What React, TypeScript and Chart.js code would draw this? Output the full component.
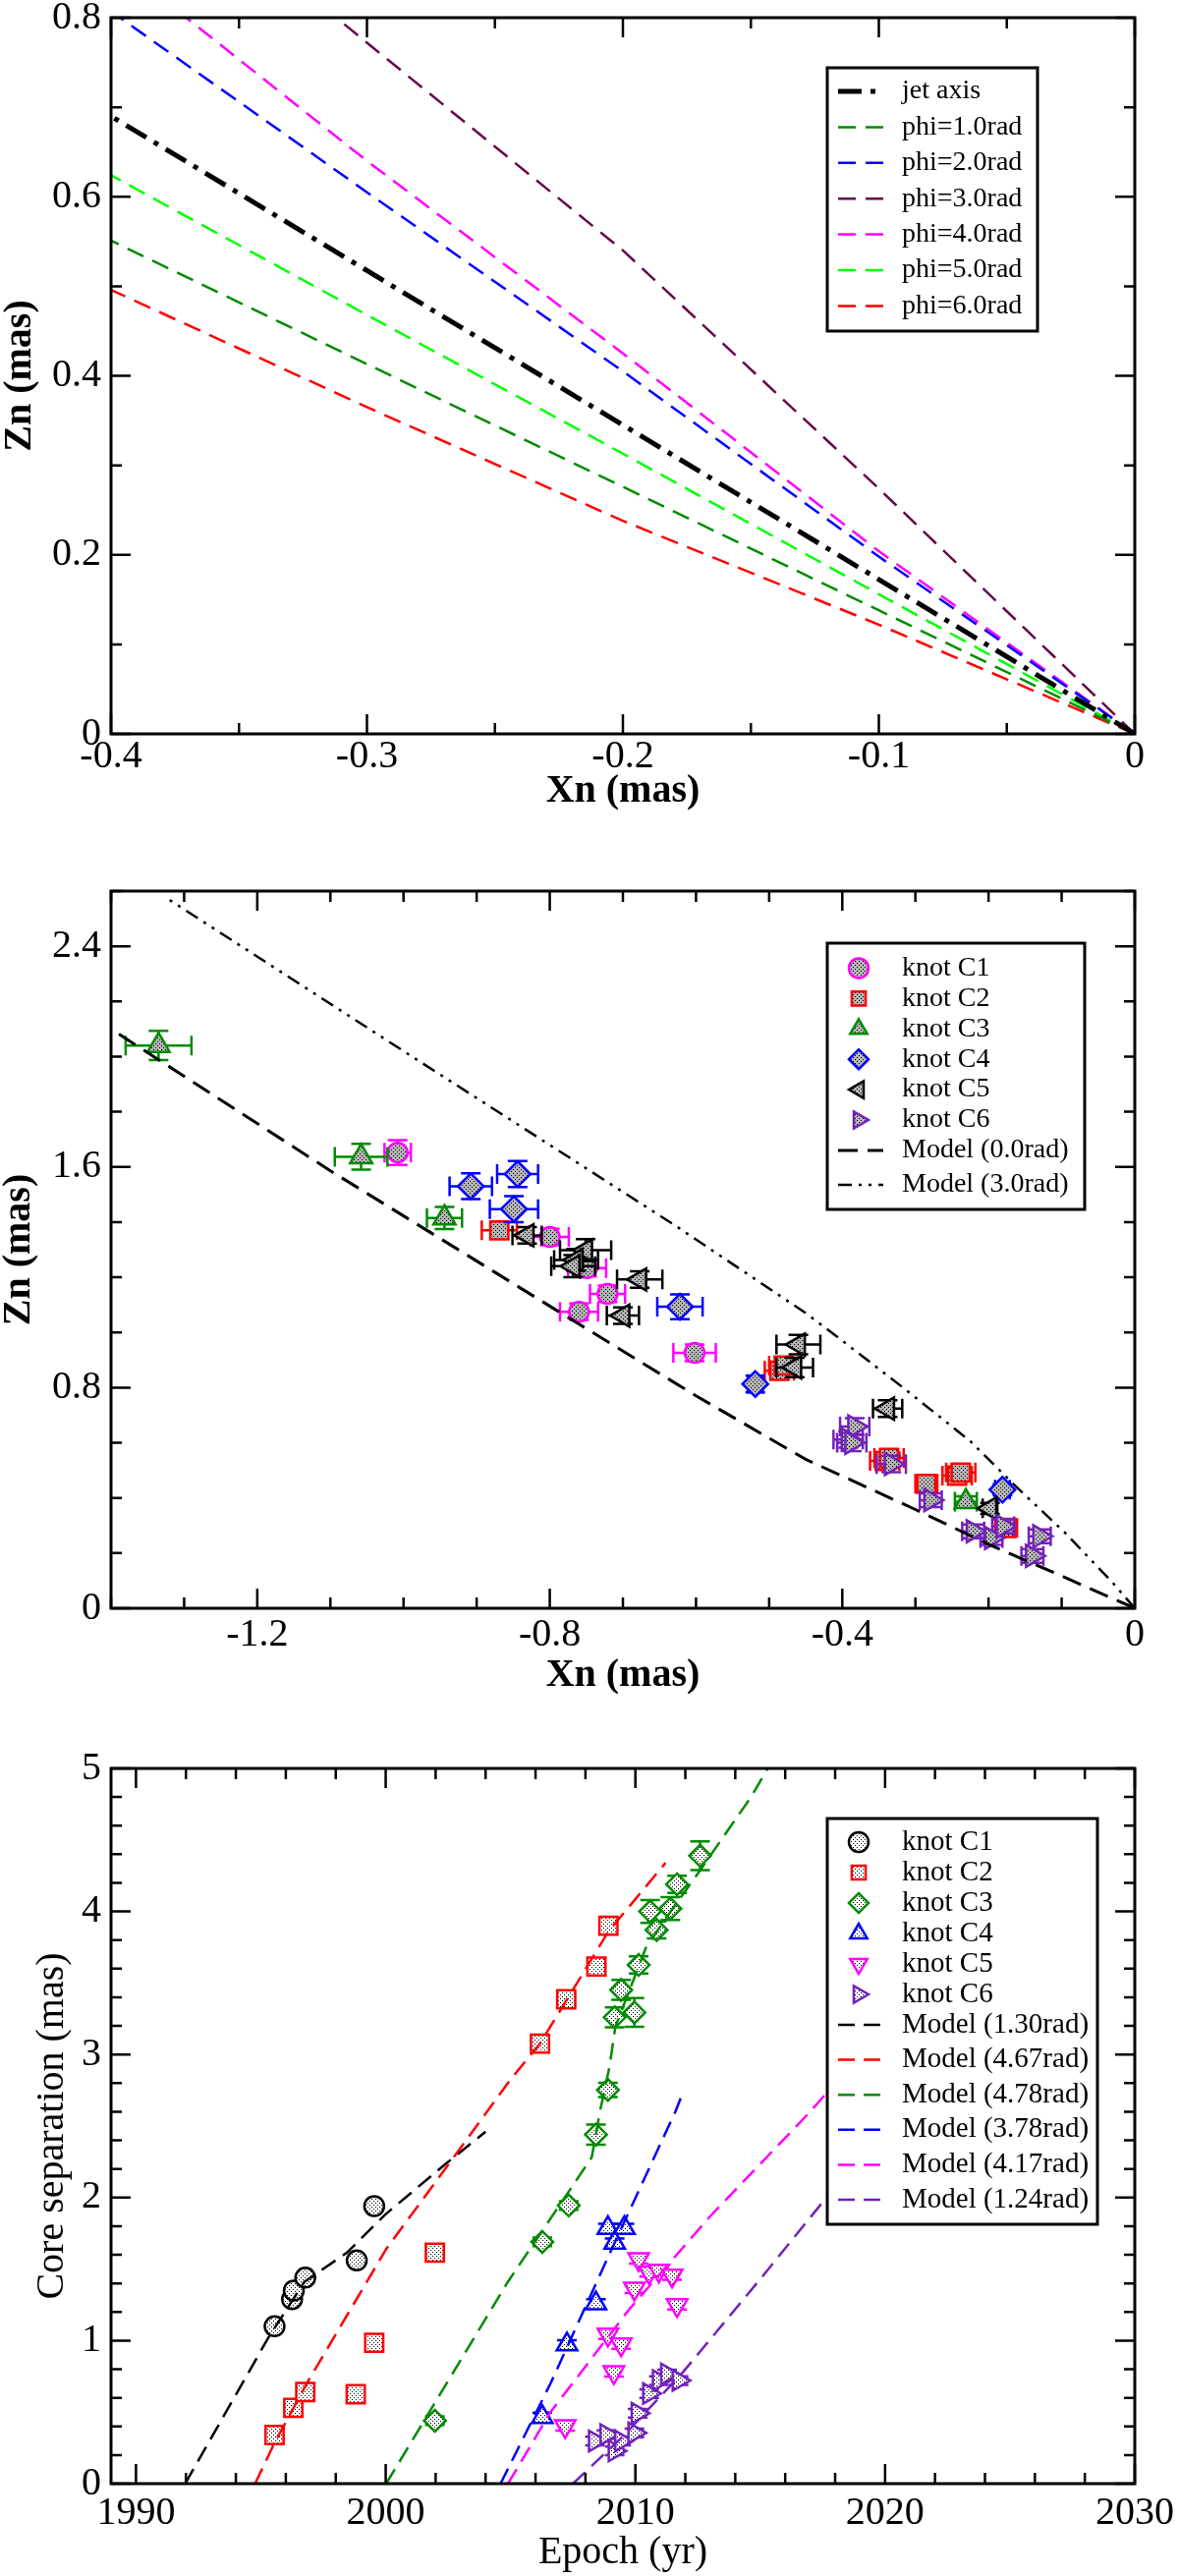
import { useEffect, useRef } from 'react';
import { Chart, registerables } from 'chart.js';
import { drawPoint } from 'chart.js/helpers';

Chart.register(...registerables);

const FONT = "'Liberation Serif', 'Times New Roman', Times, serif";

// ---------------- top panel: model trajectories ----------------
const jetAxisX = [0, -0.1, -0.2, -0.3, -0.4];
const jetAxisZ = [0, 0.1725, 0.345, 0.5175, 0.69];
const phi1X = [0, -0.1, -0.2, -0.3, -0.4];
const phi1Z = [0, 0.138, 0.276, 0.413, 0.551];
const phi2X = [0, -0.1, -0.2, -0.3, -0.3965];
const phi2Z = [0, 0.198, 0.405, 0.605, 0.8];
const phi3X = [0, -0.1, -0.2, -0.3, -0.312];
const phi3Z = [0, 0.274, 0.54, 0.772, 0.8];
const phi4X = [0, -0.1, -0.2, -0.3, -0.3706];
const phi4Z = [0, 0.204, 0.425, 0.64, 0.8];
const phi5X = [0, -0.1, -0.2, -0.3, -0.4];
const phi5Z = [0, 0.156, 0.313, 0.468, 0.624];
const phi6X = [0, -0.1, -0.2, -0.3, -0.4];
const phi6Z = [0, 0.122, 0.238, 0.365, 0.496];
const topLabels = ['jet axis', 'phi=1.0rad', 'phi=2.0rad', 'phi=3.0rad', 'phi=4.0rad', 'phi=5.0rad', 'phi=6.0rad'];
const topXTicks = [-0.4, -0.3, -0.2, -0.1, 0];
const topYTicks = [0, 0.2, 0.4, 0.6, 0.8];

// ---------------- middle panel: knot positions ----------------
const midC1X = [-1.008, -0.8, -0.749, -0.721, -0.76, -0.602];
const midC1Z = [1.652, 1.346, 1.233, 1.14, 1.075, 0.926];
const midC1EX = [0.018, 0.026, 0.026, 0.024, 0.026, 0.029];
const midC1EZ = [0.045, 0.03, 0.03, 0.03, 0.03, 0.03];
const midC2X = [-0.869, -0.486, -0.48, -0.342, -0.336, -0.285, -0.243, -0.238, -0.176];
const midC2Z = [1.37, 0.861, 0.88, 0.534, 0.545, 0.451, 0.481, 0.492, 0.291];
const midC2EX = [0.024, 0.02, 0.02, 0.02, 0.02, 0.015, 0.02, 0.02, 0.015];
const midC2EZ = [0.03, 0.03, 0.03, 0.03, 0.03, 0.02, 0.03, 0.03, 0.02];
const midC3X = [-1.335, -1.058, -0.944, -0.231];
const midC3Z = [2.04, 1.637, 1.415, 0.386];
const midC3EX = [0.045, 0.036, 0.024, 0.015];
const midC3EZ = [0.053, 0.047, 0.04, 0.02];
const midC4X = [-0.908, -0.844, -0.849, -0.622, -0.519, -0.181];
const midC4Z = [1.53, 1.574, 1.447, 1.093, 0.813, 0.43];
const midC4EX = [0.029, 0.028, 0.033, 0.031, 0.01, 0.01];
const midC4EZ = [0.047, 0.047, 0.047, 0.045, 0.03, 0.02];
const midC5X = [-0.831, -0.751, -0.764, -0.768, -0.677, -0.7, -0.46, -0.465, -0.338, -0.198];
const midC5Z = [1.352, 1.298, 1.263, 1.24, 1.192, 1.061, 0.956, 0.873, 0.724, 0.362];
const midC5EX = [0.02, 0.035, 0.03, 0.03, 0.031, 0.022, 0.03, 0.025, 0.02, 0.01];
const midC5EZ = [0.03, 0.04, 0.04, 0.04, 0.03, 0.03, 0.035, 0.035, 0.03, 0.02];
const midC6X = [-0.383, -0.392, -0.387, -0.333, -0.279, -0.221, -0.196, -0.18, -0.13, -0.14];
const midC6Z = [0.659, 0.612, 0.6, 0.523, 0.392, 0.279, 0.255, 0.297, 0.261, 0.19];
const midC6EX = [0.02, 0.02, 0.02, 0.02, 0.015, 0.015, 0.015, 0.015, 0.015, 0.015];
const midC6EZ = [0.03, 0.03, 0.03, 0.03, 0.025, 0.025, 0.025, 0.025, 0.025, 0.025];
const model00X = [0, -0.1, -0.2, -0.3, -0.45, -0.6, -0.76, -1.1, -1.4];
const model00Z = [0, 0.117, 0.232, 0.358, 0.54, 0.77, 1.03, 1.586, 2.1];
const model30X = [0, -0.03, -0.095, -0.162, -0.225, -0.315, -0.4, -0.45, -0.627, -1.0, -1.327];
const model30Z = [0, 0.092, 0.273, 0.44, 0.606, 0.796, 0.97, 1.07, 1.385, 2.02, 2.58];
const midLabels = ['knot C1', 'knot C2', 'knot C3', 'knot C4', 'knot C5', 'knot C6', 'Model (0.0rad)', 'Model (3.0rad)'];
const midXTicks = [-1.2, -0.8, -0.4, 0];
const midYTicks = [0, 0.8, 1.6, 2.4];

// ---------------- bottom panel: core separation vs epoch ----------------
const botC1T = [1995.55, 1996.25, 1996.32, 1996.78, 1998.84, 1999.54];
const botC1R = [1.1, 1.29, 1.35, 1.44, 1.56, 1.94];
const botC2T = [1995.55, 1996.3, 1996.78, 1998.8, 1999.54, 2001.97, 2006.18, 2007.23, 2008.44, 2008.92];
const botC2R = [0.34, 0.53, 0.64, 0.625, 0.985, 1.615, 3.076, 3.386, 3.615, 3.9];
const botC3T = [2001.97, 2006.27, 2007.33, 2008.42, 2008.9, 2009.17, 2009.96, 2009.43, 2010.13, 2010.85, 2010.59, 2011.4, 2011.67, 2012.59];
const botC3R = [0.44, 1.69, 1.945, 2.44, 2.753, 3.26, 3.294, 3.452, 3.626, 3.871, 4.0, 4.02, 4.19, 4.39];
const botC3E = [0.03, 0.03, 0.03, 0.07, 0.05, 0.07, 0.1, 0.07, 0.06, 0.06, 0.08, 0.08, 0.06, 0.1];
const botC4T = [2006.27, 2007.26, 2008.42, 2008.9, 2009.17, 2009.56];
const botC4R = [0.466, 0.973, 1.26, 1.787, 1.684, 1.787];
const botC5T = [2007.19, 2008.9, 2009.43, 2009.14, 2009.96, 2010.13, 2010.55, 2010.94, 2011.47, 2011.67];
const botC5R = [0.401, 1.042, 0.973, 0.779, 1.363, 1.569, 1.477, 1.489, 1.455, 1.248];
const botC6T = [2008.38, 2008.84, 2009.17, 2009.43, 2009.96, 2010.09, 2010.55, 2010.94, 2011.27, 2011.73];
const botC6R = [0.298, 0.343, 0.229, 0.298, 0.355, 0.492, 0.63, 0.721, 0.767, 0.721];
const m130T = [1991.97, 1995.3, 1996.74, 1998.45, 1999.96, 2002.39, 2004.0];
const m130R = [0, 1.02, 1.41, 1.615, 1.878, 2.234, 2.46];
const m467T = [1994.77, 1995.55, 1996.87, 2000.02, 2003.18, 2005.02, 2006.18, 2008.92, 2011.21];
const m467R = [0, 0.286, 0.71, 1.64, 2.39, 2.83, 3.076, 3.86, 4.34];
const m478T = [2000.02, 2004.89, 2008.25, 2008.58, 2008.97, 2009.2, 2010.42, 2011.21, 2012.52, 2014.63, 2015.3];
const m478R = [0, 1.41, 2.28, 2.6, 2.92, 3.196, 3.746, 3.95, 4.27, 4.8, 5.0];
const m378T = [2004.6, 2006.6, 2009.0, 2011.6, 2011.85];
const m378R = [0, 0.7, 1.62, 2.6, 2.71];
const m417T = [2004.9, 2006.6, 2009.76, 2013.0, 2017.0, 2020.0];
const m417R = [0, 0.5, 1.22, 1.87, 2.6, 3.2];
const m124T = [2007.5, 2009.5, 2011.86, 2015.0, 2017.65, 2020.0];
const m124R = [0, 0.33, 0.77, 1.43, 2.0, 2.5];
const botLabels = ['knot C1', 'knot C2', 'knot C3', 'knot C4', 'knot C5', 'knot C6',
  'Model (1.30rad)', 'Model (4.67rad)', 'Model (4.78rad)', 'Model (3.78rad)', 'Model (4.17rad)', 'Model (1.24rad)'];
const botXTicks = [1990, 2000, 2010, 2020, 2030];
const botYTicks = [0, 1, 2, 3, 4, 5];

const C = {
  black: '#000000', red: '#ff0000', green4: '#008b00', lime: '#00ff00', blue: '#0000ff',
  magenta: '#ff00ff', maroon: '#670748', indigo: '#7221bc',
};

type Pt = { x: number; y: number; ex?: number; ey?: number };

const zip = (xs: number[], ys: number[], ex?: number[] | number, ey?: number[] | number): Pt[] =>
  xs.map((x, i) => ({
    x,
    y: ys[i],
    ex: Array.isArray(ex) ? ex[i] : ex,
    ey: Array.isArray(ey) ? ey[i] : ey,
  }));

function stipple(bg: string): CanvasPattern {
  const c = document.createElement('canvas');
  c.width = 4;
  c.height = 4;
  const g = c.getContext('2d')!;
  g.fillStyle = bg;
  g.fillRect(0, 0, 4, 4);
  g.fillStyle = '#000';
  g.fillRect(0, 0, 1, 1);
  g.fillRect(2, 2, 1, 1);
  return g.createPattern(c, 'repeat')!;
}

const knot = (label: string, data: Pt[], color: string, style: string, rotation: number, radius: number, fill: any, cap: number) => ({
  label, data, showLine: false, pointStyle: style, pointRotation: rotation, pointRadius: radius,
  pointBorderWidth: 2.5, pointBorderColor: color, pointBackgroundColor: fill, errorBars: true, errCap: cap,
});

const model = (label: string, data: Pt[], color: string, dash: number[], width: number) => ({
  label, data, showLine: true, pointRadius: 0, borderColor: color, borderDash: dash, borderWidth: width,
  fill: false, tension: 0,
});

// error bars drawn just under each dataset's markers
const errorBars = {
  id: 'errorBars',
  beforeDatasetDraw(chart: any, args: any) {
    const ds = chart.data.datasets[args.index];
    if (!ds.errorBars) return;
    const { ctx, chartArea: a } = chart;
    const xs = chart.scales.x;
    const ys = chart.scales.y;
    const cap = ds.errCap;
    ctx.save();
    ctx.beginPath();
    ctx.rect(a.left, a.top, a.right - a.left, a.bottom - a.top);
    ctx.clip();
    ctx.strokeStyle = ds.pointBorderColor;
    ctx.lineWidth = 2.5;
    ds.data.forEach((p: Pt) => {
      const cx = xs.getPixelForValue(p.x);
      const cy = ys.getPixelForValue(p.y);
      ctx.beginPath();
      if (p.ex) {
        const l = xs.getPixelForValue(p.x - p.ex);
        const r = xs.getPixelForValue(p.x + p.ex);
        ctx.moveTo(l, cy); ctx.lineTo(r, cy);
        ctx.moveTo(l, cy - cap); ctx.lineTo(l, cy + cap);
        ctx.moveTo(r, cy - cap); ctx.lineTo(r, cy + cap);
      }
      if (p.ey) {
        const t = ys.getPixelForValue(p.y + p.ey);
        const b = ys.getPixelForValue(p.y - p.ey);
        ctx.moveTo(cx, t); ctx.lineTo(cx, b);
        ctx.moveTo(cx - cap, t); ctx.lineTo(cx + cap, t);
        ctx.moveTo(cx - cap, b); ctx.lineTo(cx + cap, b);
      }
      ctx.stroke();
    });
    ctx.restore();
  },
};

interface FrameSpec { xMajor: number[]; yMajor: number[]; xMinor: number; yMinor: number }

// box with inward major/minor ticks on all four sides
function framePlugin(f: FrameSpec) {
  const steps = (min: number, max: number, step: number) => {
    const out: number[] = [];
    for (let n = Math.ceil(min / step - 1e-6); n <= Math.floor(max / step + 1e-6); n++) out.push(n * step);
    return out;
  };
  return {
    id: 'frame',
    afterDatasetsDraw(chart: any) {
      const { ctx, chartArea: a } = chart;
      const xs = chart.scales.x;
      const ys = chart.scales.y;
      ctx.save();
      ctx.strokeStyle = '#000';
      ctx.lineWidth = 2.5;
      ctx.beginPath();
      steps(xs.min, xs.max, f.xMinor).forEach((v) => {
        const len = f.xMajor.some((m) => Math.abs(m - v) < f.xMinor / 10) ? 20 : 11;
        const px = xs.getPixelForValue(v);
        ctx.moveTo(px, a.bottom); ctx.lineTo(px, a.bottom - len);
        ctx.moveTo(px, a.top); ctx.lineTo(px, a.top + len);
      });
      steps(ys.min, ys.max, f.yMinor).forEach((v) => {
        const len = f.yMajor.some((m) => Math.abs(m - v) < f.yMinor / 10) ? 20 : 11;
        const py = ys.getPixelForValue(v);
        ctx.moveTo(a.left, py); ctx.lineTo(a.left + len, py);
        ctx.moveTo(a.right, py); ctx.lineTo(a.right - len, py);
      });
      ctx.stroke();
      ctx.lineWidth = 3;
      ctx.strokeRect(a.left, a.top, a.right - a.left, a.bottom - a.top);
      ctx.restore();
    },
  };
}

interface LegendSpec { x: number; y: number; w: number; h: number; first: number; pointStep: number; lineStep: number; markR: number; size: number }

function legendPlugin(s: LegendSpec) {
  return {
    id: 'boxLegend',
    afterDraw(chart: any) {
      const { ctx } = chart;
      ctx.save();
      ctx.fillStyle = '#fff';
      ctx.fillRect(s.x, s.y, s.w, s.h);
      ctx.lineWidth = 3;
      ctx.strokeStyle = '#000';
      ctx.strokeRect(s.x, s.y, s.w, s.h);
      let y = s.first;
      let prevLine = false;
      chart.data.datasets.forEach((ds: any, i: number) => {
        const isLine = !!ds.showLine;
        if (i > 0) y += isLine && prevLine ? s.lineStep : s.pointStep;
        prevLine = isLine;
        if (isLine) {
          ctx.beginPath();
          ctx.setLineDash(ds.borderDash);
          ctx.lineWidth = ds.borderWidth;
          ctx.strokeStyle = ds.borderColor;
          ctx.moveTo(s.x + 11, y);
          ctx.lineTo(s.x + 57, y);
          ctx.stroke();
          ctx.setLineDash([]);
        } else {
          ctx.fillStyle = ds.pointBackgroundColor;
          ctx.strokeStyle = ds.pointBorderColor;
          ctx.lineWidth = ds.pointBorderWidth;
          drawPoint(ctx, { pointStyle: ds.pointStyle, rotation: ds.pointRotation, radius: s.markR, borderWidth: ds.pointBorderWidth } as any, s.x + 32, y);
        }
        ctx.fillStyle = '#000';
        ctx.font = `${s.size}px ${FONT}`;
        ctx.textBaseline = 'middle';
        ctx.textAlign = 'left';
        ctx.fillText(ds.label, s.x + 76, y);
      });
      ctx.restore();
    },
  };
}

interface AxesSpec {
  xMin: number; xMax: number; yMin: number; yMax: number;
  xTicks: number[]; yTicks: number[]; xTitle: string; yTitle: string; bold: boolean;
  padTop: number; xAxisH: number; xTickPad: number; xTitlePad: number; yTitlePad: number;
}

function baseOptions(a: AxesSpec) {
  const tickFont = { family: FONT, size: 40, lineHeight: 1 };
  const titleFont = { family: FONT, size: 40, lineHeight: 1, weight: a.bold ? 'bold' : 'normal' };
  const fmt = (v: number) => String(Math.round(v * 1000) / 1000);
  return {
    animation: false,
    responsive: true,
    maintainAspectRatio: false,
    events: [],
    layout: { autoPadding: false, padding: { top: a.padTop, right: 45, bottom: 0, left: 0 } },
    plugins: { legend: { display: false }, tooltip: { enabled: false } },
    scales: {
      x: {
        type: 'linear',
        min: a.xMin,
        max: a.xMax,
        grid: { display: false, drawTicks: false },
        border: { display: false },
        afterBuildTicks: (s: any) => { s.ticks = a.xTicks.map((value) => ({ value })); },
        afterFit: (s: any) => { s.height = a.xAxisH; s.paddingLeft = 0; s.paddingRight = 0; },
        ticks: { color: '#000', font: tickFont, padding: a.xTickPad, maxRotation: 0, autoSkip: false, callback: fmt },
        title: { display: true, text: a.xTitle, color: '#000', font: titleFont, padding: { top: 0, bottom: a.xTitlePad } },
      },
      y: {
        type: 'linear',
        min: a.yMin,
        max: a.yMax,
        grid: { display: false, drawTicks: false },
        border: { display: false },
        afterBuildTicks: (s: any) => { s.ticks = a.yTicks.map((value) => ({ value })); },
        afterFit: (s: any) => { s.width = 113; s.paddingTop = 0; s.paddingBottom = 0; },
        ticks: { color: '#000', font: tickFont, padding: 10, autoSkip: false, callback: fmt },
        title: { display: true, text: a.yTitle, color: '#000', font: titleFont, padding: { top: a.yTitlePad, bottom: 0 } },
      },
    },
  };
}

function buildTop() {
  const dash = [18, 10];
  return {
    type: 'scatter',
    data: {
      datasets: [
        model(topLabels[0], zip(jetAxisX, jetAxisZ), C.black, [24, 9, 5, 9], 5),
        model(topLabels[1], zip(phi1X, phi1Z), C.green4, dash, 2.5),
        model(topLabels[2], zip(phi2X, phi2Z), C.blue, dash, 2.5),
        model(topLabels[3], zip(phi3X, phi3Z), C.maroon, dash, 2.5),
        model(topLabels[4], zip(phi4X, phi4Z), C.magenta, dash, 2.5),
        model(topLabels[5], zip(phi5X, phi5Z), C.lime, dash, 2.5),
        model(topLabels[6], zip(phi6X, phi6Z), C.red, dash, 2.5),
      ],
    },
    options: baseOptions({
      xMin: -0.4, xMax: 0, yMin: 0, yMax: 0.8, xTicks: topXTicks, yTicks: topYTicks,
      xTitle: 'Xn (mas)', yTitle: 'Zn (mas)', bold: true,
      padTop: 18, xAxisH: 93, xTickPad: 3, xTitlePad: 14, yTitlePad: 1,
    }),
    plugins: [
      framePlugin({ xMajor: topXTicks, yMajor: topYTicks, xMinor: 0.05, yMinor: 0.1 }),
      legendPlugin({ x: 842, y: 69, w: 214, h: 268, first: 93, pointStep: 36.4, lineStep: 36.4, markR: 10, size: 28 }),
    ],
  };
}

function buildMiddle() {
  const fill = stipple('#b4b4b4');
  return {
    type: 'scatter',
    data: {
      datasets: [
        knot(midLabels[0], zip(midC1X, midC1Z, midC1EX, midC1EZ), C.magenta, 'circle', 0, 10, fill, 10),
        knot(midLabels[1], zip(midC2X, midC2Z, midC2EX, midC2EZ), C.red, 'rect', 0, 13, fill, 10),
        knot(midLabels[2], zip(midC3X, midC3Z, midC3EX, midC3EZ), C.green4, 'triangle', 0, 13, fill, 10),
        knot(midLabels[3], zip(midC4X, midC4Z, midC4EX, midC4EZ), C.blue, 'rectRot', 0, 13, fill, 10),
        knot(midLabels[4], zip(midC5X, midC5Z, midC5EX, midC5EZ), C.black, 'triangle', 270, 13, fill, 10),
        knot(midLabels[5], zip(midC6X, midC6Z, midC6EX, midC6EZ), C.indigo, 'triangle', 90, 13, fill, 10),
        model(midLabels[6], zip(model00X, model00Z), C.black, [20, 10], 3),
        model(midLabels[7], zip(model30X, model30Z), C.black, [14, 7, 3, 7, 3, 7], 2.5),
      ].map((d, i) => ({ ...d, order: -i })),
    },
    options: baseOptions({
      xMin: -1.4, xMax: 0, yMin: 0, yMax: 2.6, xTicks: midXTicks, yTicks: midYTicks,
      xTitle: 'Xn (mas)', yTitle: 'Zn (mas)', bold: true,
      padTop: 47, xAxisH: 93, xTickPad: 7, xTitlePad: 4, yTitlePad: 0,
    }),
    plugins: [
      errorBars,
      framePlugin({ xMajor: midXTicks, yMajor: midYTicks, xMinor: 0.1, yMinor: 0.2 }),
      legendPlugin({ x: 842, y: 100, w: 262, h: 271, first: 125.5, pointStep: 30.9, lineStep: 35, markR: 10, size: 28 }),
    ],
  };
}

function buildBottom() {
  const fill = stipple('#ffffff');
  return {
    type: 'scatter',
    data: {
      datasets: [
        knot(botLabels[0], zip(botC1T, botC1R), C.black, 'circle', 0, 10, fill, 10),
        knot(botLabels[1], zip(botC2T, botC2R), C.red, 'rect', 0, 13, fill, 10),
        knot(botLabels[2], zip(botC3T, botC3R, 0, botC3E), C.green4, 'rectRot', 0, 11, fill, 10),
        knot(botLabels[3], zip(botC4T, botC4R, 0, 0.03), C.blue, 'triangle', 0, 12, fill, 10),
        knot(botLabels[4], zip(botC5T, botC5R, 0, 0.03), C.magenta, 'triangle', 180, 12, fill, 10),
        knot(botLabels[5], zip(botC6T, botC6R, 0, 0.03), C.indigo, 'triangle', 90, 12, fill, 10),
        model(botLabels[6], zip(m130T, m130R), C.black, [17, 9], 2.5),
        model(botLabels[7], zip(m467T, m467R), C.red, [17, 9], 2.5),
        model(botLabels[8], zip(m478T, m478R), C.green4, [17, 9], 2.5),
        model(botLabels[9], zip(m378T, m378R), C.blue, [17, 9], 2.5),
        model(botLabels[10], zip(m417T, m417R), C.magenta, [17, 9], 2.5),
        model(botLabels[11], zip(m124T, m124R), C.indigo, [17, 9], 2.5),
      ].map((d, i) => ({ ...d, order: -i })),
    },
    options: baseOptions({
      xMin: 1989, xMax: 2030, yMin: 0, yMax: 5, xTicks: botXTicks, yTicks: botYTicks,
      xTitle: 'Epoch (yr)', yTitle: 'Core separation (mas)', bold: false,
      padTop: 40, xAxisH: 94, xTickPad: 10, xTitlePad: 4, yTitlePad: 33,
    }),
    plugins: [
      errorBars,
      framePlugin({ xMajor: botXTicks, yMajor: botYTicks, xMinor: 2, yMinor: 0.2 }),
      legendPlugin({ x: 842, y: 91, w: 275, h: 413, first: 115, pointStep: 31, lineStep: 35.6, markR: 10, size: 29 }),
    ],
  };
}

function Panel({ top, height, build }: { top: number; height: number; build: () => any }) {
  const chartRef = useRef<HTMLCanvasElement>(null);
  const chartInstance = useRef<Chart | null>(null);

  useEffect(() => {
    if (!chartRef.current) return;
    if (chartInstance.current) chartInstance.current.destroy();
    chartInstance.current = new Chart(chartRef.current, build());
    return () => {
      if (chartInstance.current) {
        chartInstance.current.destroy();
        chartInstance.current = null;
      }
    };
  }, [build]);

  return (
    <div style={{ position: 'absolute', left: 0, top, width: 1200, height }}>
      <canvas ref={chartRef}></canvas>
    </div>
  );
}

export default function App() {
  return (
    <div style={{ position: 'absolute', left: 0, top: 0, width: 1200, height: 2622, background: '#fff' }}>
      <Panel top={0} height={840} build={buildTop} />
      <Panel top={860} height={870} build={buildMiddle} />
      <Panel top={1760} height={862} build={buildBottom} />
    </div>
  );
}
